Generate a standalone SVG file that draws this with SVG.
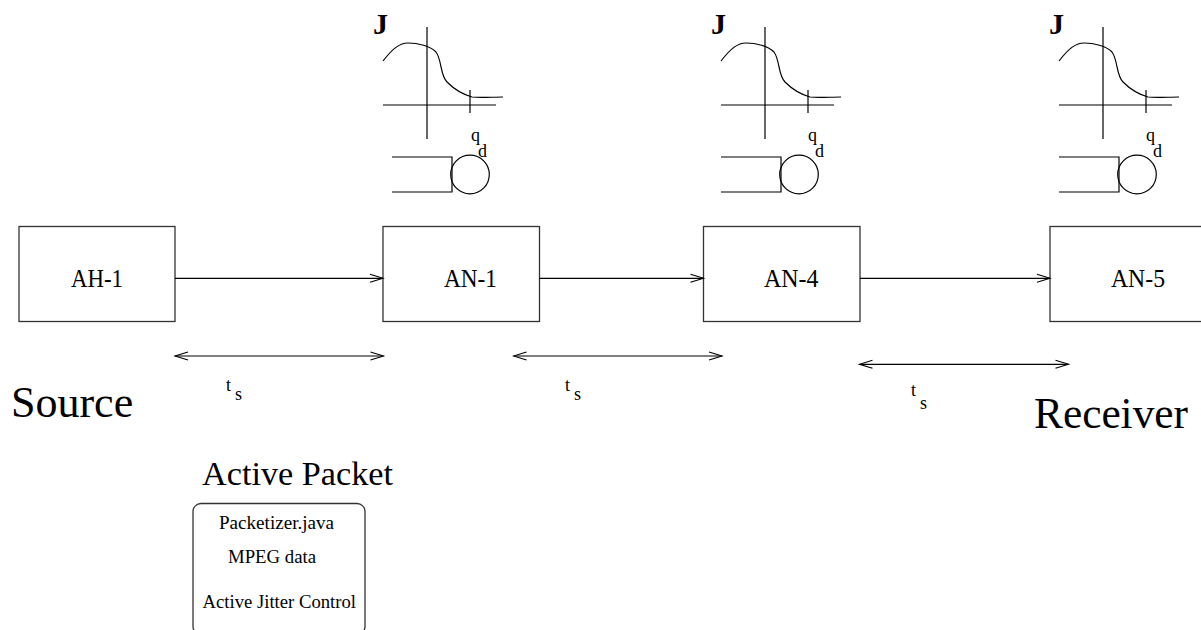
<svg xmlns="http://www.w3.org/2000/svg" xmlns:xlink="http://www.w3.org/1999/xlink" width="1201" height="630" viewBox="0 0 1201 630">
<style>
  .ln{fill:none;stroke:#000;stroke-width:1.2}
  .bx{fill:#fff;stroke:#333;stroke-width:1.3}
  .t{font-family:"Liberation Serif","Times New Roman",serif;fill:#000}
  .J{font-family:"Liberation Serif","Times New Roman",serif;font-weight:bold;font-size:30px}
  .sm{font-size:18px}
  .nd{font-size:25px}
  .big{font-size:44px}
  .pk{font-size:19px}
</style>
<defs>
  <marker id="ah" markerUnits="userSpaceOnUse" markerWidth="16" markerHeight="12" refX="14" refY="6" orient="auto-start-reverse">
    <path d="M1,2 L14,6 L1,10" fill="none" stroke="#000" stroke-width="1.1"/>
  </marker>
  <g id="plot">
    <path class="ln" d="M383,61 C393,48 400,43 408,43 C418,43 430,46 436,52 C442,60 440,75 447,82 C455,90 465,95 472,97 C480,98 492,97 503,97"/>
    <line class="ln" x1="427" y1="27" x2="427" y2="139"/>
    <line class="ln" x1="383" y1="105" x2="496" y2="105"/>
    <line class="ln" x1="470" y1="90" x2="470" y2="113"/>
  </g>
  <g id="queue">
    <path class="ln" d="M392,157 L452,157 L452,192 L392,192"/>
    <circle class="ln" cx="470" cy="174.5" r="19.3"/>
  </g>
</defs>

<g id="graph-1">
  <text class="J" x="373" y="34">J</text>
  <use xlink:href="#plot"/>
  <text class="t sm" x="471" y="141">q</text>
  <text class="t sm" x="478" y="157">d</text>
  <use xlink:href="#queue"/>
</g>
<g id="graph-2">
  <text class="J" x="711" y="34">J</text>
  <use xlink:href="#plot" transform="translate(338,0)"/>
  <text class="t sm" x="808" y="141">q</text>
  <text class="t sm" x="815" y="157">d</text>
  <use xlink:href="#queue" transform="translate(329,0)"/>
</g>
<g id="graph-3">
  <text class="J" x="1049" y="34">J</text>
  <use xlink:href="#plot" transform="translate(676,0)"/>
  <text class="t sm" x="1146" y="141">q</text>
  <text class="t sm" x="1153" y="157">d</text>
  <use xlink:href="#queue" transform="translate(667,0)"/>
</g>

<g id="AH-1">
  <rect class="bx" x="19" y="226.5" width="156" height="95"/>
  <text class="t nd" x="71" y="287" textLength="52" lengthAdjust="spacingAndGlyphs">AH-1</text>
</g>
<g id="AN-1">
  <rect class="bx" x="383" y="226.5" width="156.5" height="95"/>
  <text class="t nd" x="444" y="287" textLength="53" lengthAdjust="spacingAndGlyphs">AN-1</text>
</g>
<g id="AN-4">
  <rect class="bx" x="703.5" y="226.5" width="156.5" height="95"/>
  <text class="t nd" x="764" y="287" textLength="54.5" lengthAdjust="spacingAndGlyphs">AN-4</text>
</g>
<g id="AN-5">
  <rect class="bx" x="1050" y="226.5" width="160" height="95"/>
  <text class="t nd" x="1111" y="287" textLength="54" lengthAdjust="spacingAndGlyphs">AN-5</text>
</g>

<g id="connectors">
  <line class="ln" x1="175" y1="278.3" x2="383" y2="278.3" marker-end="url(#ah)"/>
  <line class="ln" x1="539.5" y1="278.3" x2="703.5" y2="278.3" marker-end="url(#ah)"/>
  <line class="ln" x1="860" y1="278.3" x2="1050" y2="278.3" marker-end="url(#ah)"/>
  <line class="ln" x1="175" y1="356" x2="383.5" y2="356" marker-start="url(#ah)" marker-end="url(#ah)"/>
  <line class="ln" x1="513.5" y1="356" x2="722" y2="356" marker-start="url(#ah)" marker-end="url(#ah)"/>
  <line class="ln" x1="859.5" y1="364.3" x2="1068.5" y2="364.3" marker-start="url(#ah)" marker-end="url(#ah)"/>
</g>

<g id="labels">
  <text class="t sm" x="226" y="391">t</text>
  <text class="t sm" x="235" y="400">s</text>
  <text class="t sm" x="565" y="391">t</text>
  <text class="t sm" x="574" y="400">s</text>
  <text class="t sm" x="911" y="396">t</text>
  <text class="t sm" x="920" y="409">s</text>
  <text class="t big" x="11" y="417">Source</text>
  <text class="t big" x="1034" y="428" textLength="154" lengthAdjust="spacingAndGlyphs">Receiver</text>
</g>

<g id="active-packet">
  <text class="t" x="202" y="485" style="font-size:33px" textLength="191" lengthAdjust="spacingAndGlyphs">Active Packet</text>
  <rect class="bx" x="193" y="503.5" width="172" height="131" rx="8" ry="8"/>
  <text class="t pk" x="219" y="529" textLength="115" lengthAdjust="spacingAndGlyphs">Packetizer.java</text>
  <text class="t pk" x="228" y="563" textLength="88" lengthAdjust="spacingAndGlyphs">MPEG data</text>
  <text class="t pk" x="202.5" y="608" textLength="153.5" lengthAdjust="spacingAndGlyphs">Active Jitter Control</text>
</g>
</svg>
